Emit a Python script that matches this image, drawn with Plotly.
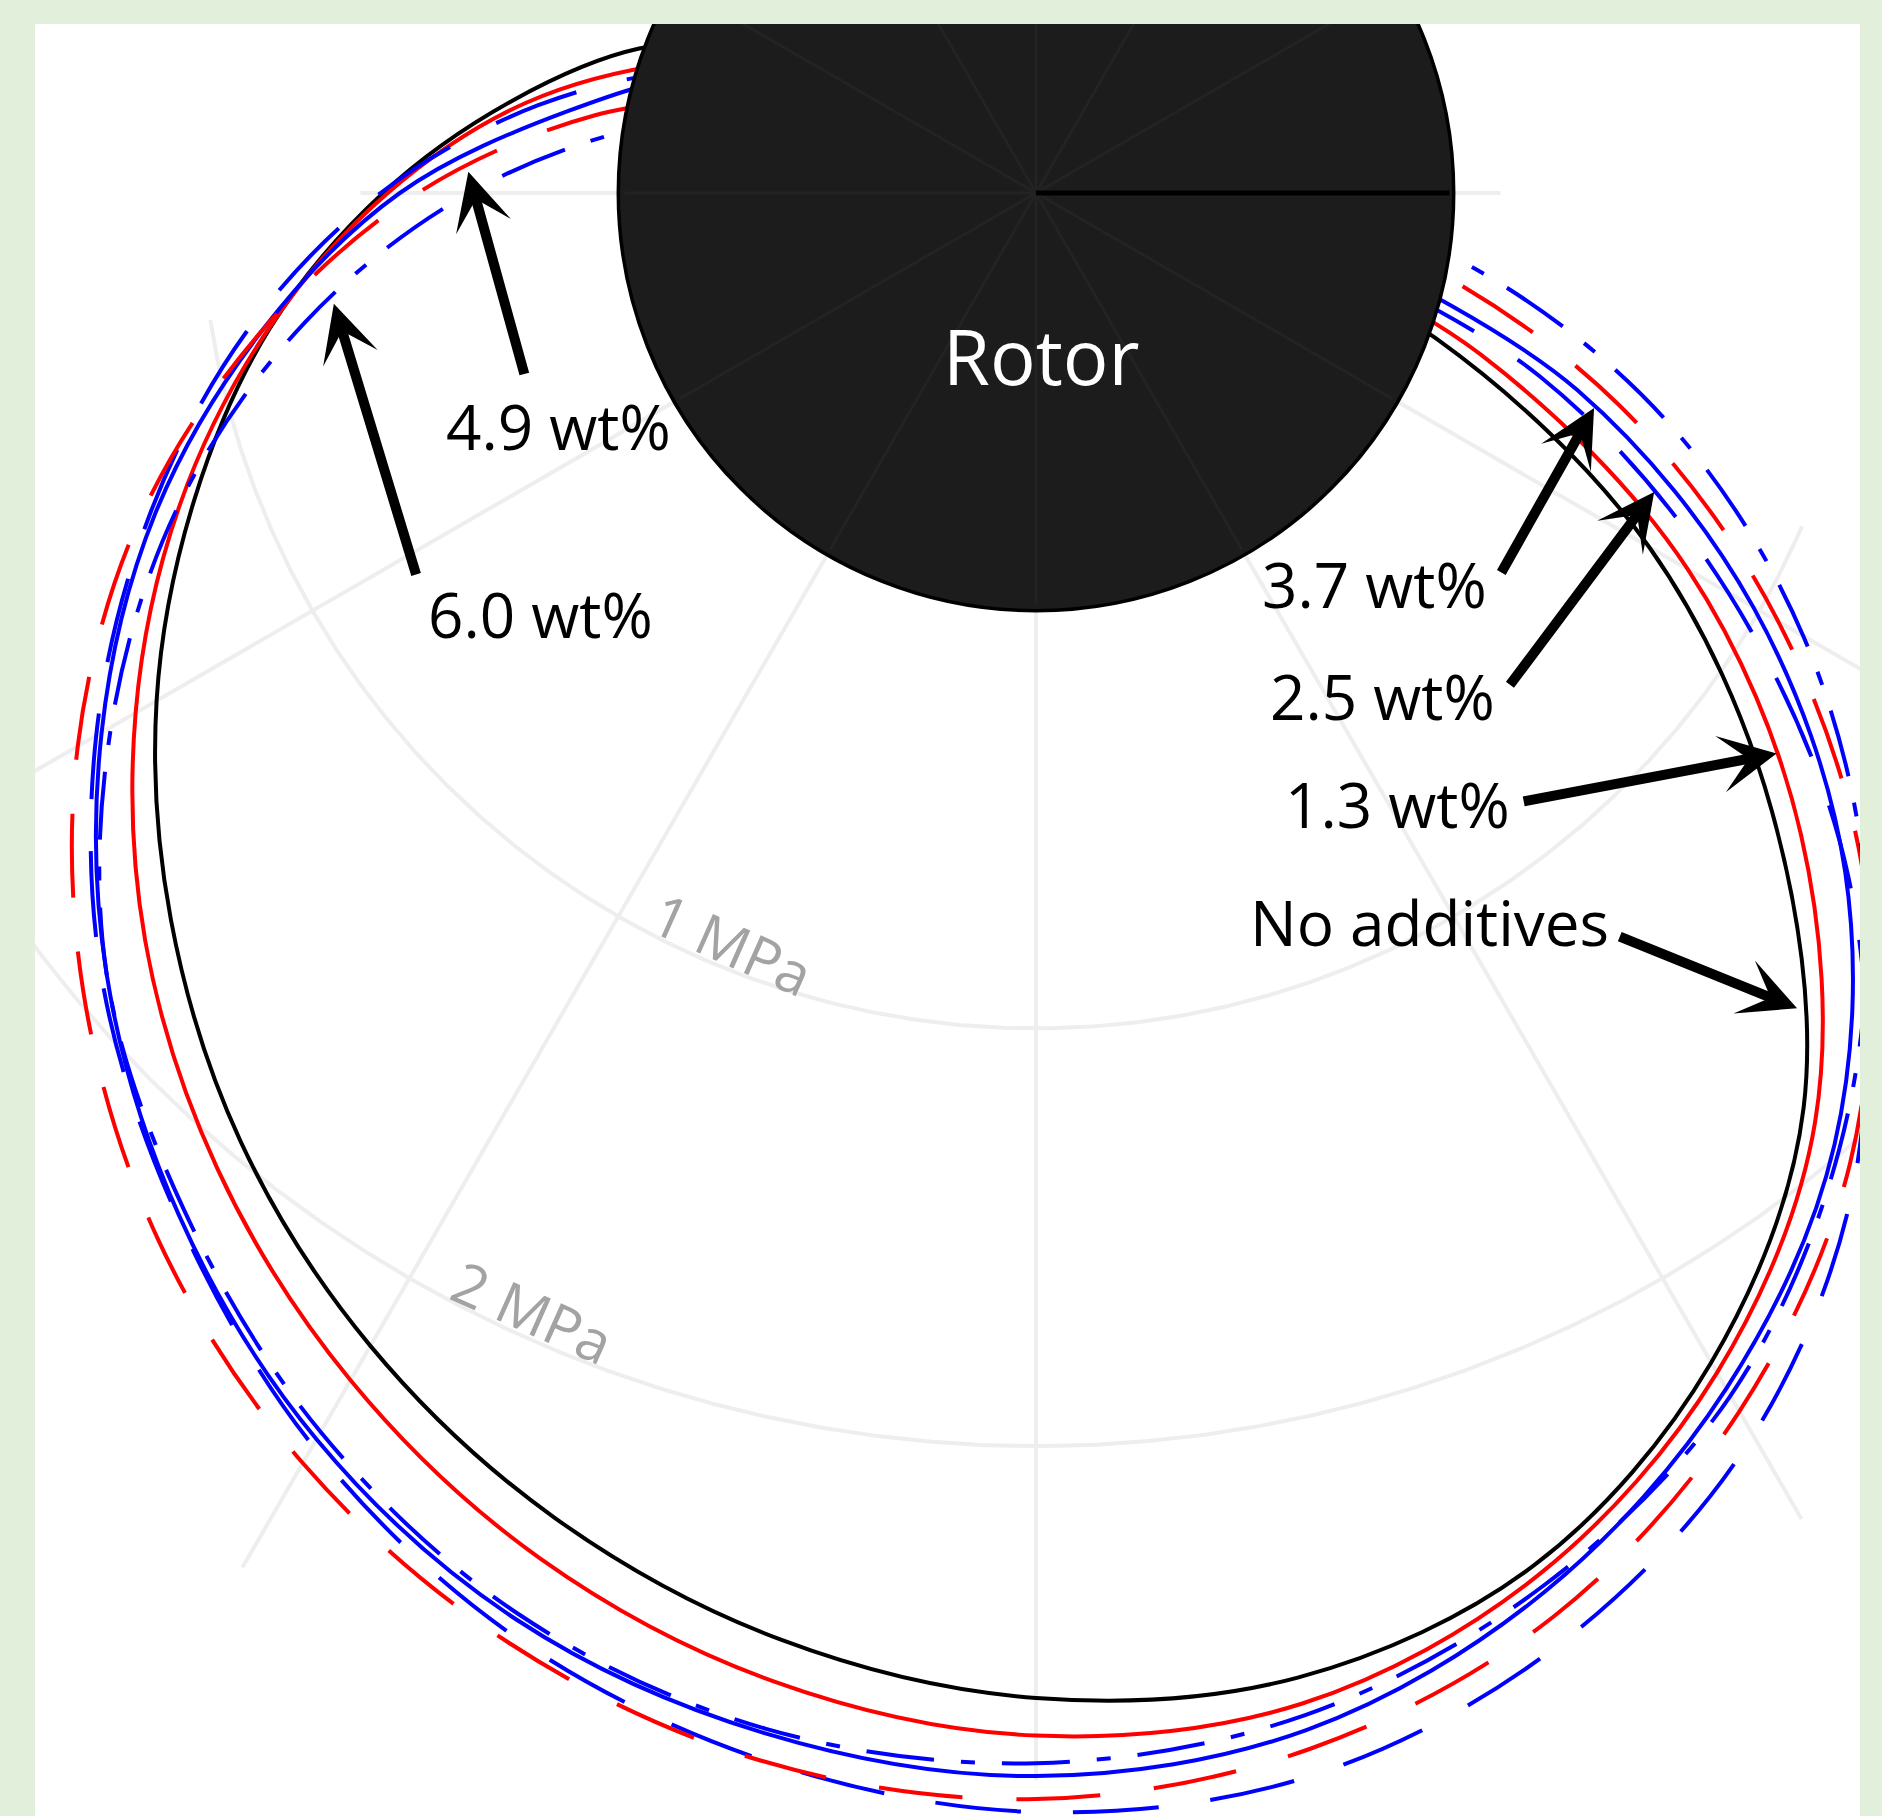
import numpy as np
import plotly.graph_objects as go

# ---- film pressure around the rotor: angle (deg, ccw from +x) and pressure (MPa) ----
theta_none = [150, 160, 170, 180, 190, 200, 210, 220, 230, 240, 250, 260, 270,
              280, 290, 300, 310, 320, 330, 340, 350]
p_none = [-0.282, 0.011, 0.273, 0.563, 0.862, 1.144, 1.431, 1.704, 1.963, 2.187, 2.374, 2.517, 2.603,
          2.609, 2.494, 2.233, 1.859, 1.299, 0.695, 0.020, -0.569]

theta_13 = [150, 160, 170, 180, 190, 200, 210, 220, 230, 240, 250, 260, 270,
            280, 290, 300, 310, 320, 330, 340, 350]
p_13 = [-0.368, -0.086, 0.241, 0.552, 0.865, 1.181, 1.489, 1.784, 2.049, 2.282, 2.477, 2.618, 2.693,
        2.672, 2.520, 2.261, 1.902, 1.391, 0.802, 0.135, -0.454]

theta_25 = [150, 160, 170, 180, 190, 200, 210, 220, 230, 240, 250, 260, 270,
            280, 290, 300, 310, 320, 330, 340, 350]
p_25 = [-0.483, -0.138, 0.210, 0.569, 0.920, 1.259, 1.598, 1.920, 2.198, 2.463, 2.672, 2.807, 2.876,
        2.845, 2.690, 2.434, 2.055, 1.537, 0.914, 0.284, -0.382]

theta_37 = [150, 160, 170, 180, 190, 200, 210, 220, 230, 240, 250, 260, 270,
            280, 290, 300, 310, 320, 330, 340, 350]
p_37 = [-0.511, -0.167, 0.135, 0.523, 0.879, 1.244, 1.583, 1.905, 2.193, 2.445, 2.635, 2.744, 2.790,
        2.736, 2.563, 2.305, 1.974, 1.529, 0.983, 0.379, -0.267]

theta_49 = [160, 170, 180, 190, 200, 210, 220, 230, 240, 250, 260, 270,
            280, 290, 300, 310, 320, 330, 340, 350, 360]
p_49 = [-0.310, 0.072, 0.480, 0.879, 1.284, 1.649, 1.977, 2.270, 2.511, 2.693, 2.810, 2.845,
        2.782, 2.626, 2.368, 2.032, 1.592, 1.052, 0.486, -0.080, -0.569]

theta_60 = [160, 170, 180, 190, 200, 210, 220, 230, 240, 250, 260, 270,
            280, 290, 300, 310, 320, 330, 340, 350, 360]
p_60 = [-0.483, -0.066, 0.356, 0.776, 1.184, 1.557, 1.905, 2.175, 2.425, 2.621, 2.733, 2.759,
        2.701, 2.549, 2.325, 1.991, 1.592, 1.121, 0.612, 0.078, -0.425]

series_names = ["No additives", "1.3 wt%", "2.5 wt%", "3.7 wt%", "4.9 wt%", "6.0 wt%"]

# ---- radial (pressure) axis ----
r_ticks = [1, 2]
r_tick_labels = ["1 MPa", "2 MPa"]
r_tick_label_angles = [248.0, 245.8]
r_axis_min = -1.0          # pressure at the rotor centre; 0 MPa sits on the rotor surface
r_axis_max = 2.8
theta_grid = list(range(0, 360, 30))

# ---- styling ----
styles = [
    dict(color="black", dash="solid"),
    dict(color="#ff0000", dash="solid"),
    dict(color="#0000ff", dash="86px,52px"),
    dict(color="#0000ff", dash="solid"),
    dict(color="#ff0000", dash="84px,54px"),
    dict(color="#0000ff", dash="68px,27px,14px,27px"),
]
GRID = "#eeeeee"
FONT = "Open Sans"

# page geometry (px): one pressure unit is UNIT px, rotor centre at (CX, CY)
W, H = 1882, 1816
ML, MR, MT, MB = 35, 22, 24, 0
UNIT = 417.7
CX, CY = 1036.0, 193.0
x_range = [(ML - CX) / UNIT, (W - MR - CX) / UNIT]
y_range = [(CY - (H - MB)) / UNIT, (CY - MT) / UNIT]

# the pressure grid is only displayed inside this window (x, y, radius in plot units)
grid_window = (-0.254, -1.98, 2.406)


def to_xy(theta_deg, p):
    t = np.radians(np.asarray(theta_deg, dtype=float))
    r = np.asarray(p, dtype=float) - r_axis_min
    return r * np.cos(t), r * np.sin(t)


def windowed(xs, ys):
    cx, cy, cr = grid_window
    keep = (xs - cx) ** 2 + (ys - cy) ** 2 <= cr ** 2
    return ([float(v) if k else None for v, k in zip(xs, keep)],
            [float(v) if k else None for v, k in zip(ys, keep)])


fig = go.Figure()

# grid circles
tt = np.linspace(0, 2 * np.pi, 1441)
for rv in r_ticks:
    rr = rv - r_axis_min
    gx, gy = windowed(rr * np.cos(tt), rr * np.sin(tt))
    fig.add_trace(go.Scatter(x=gx, y=gy, mode="lines", line=dict(color=GRID, width=4),
                             hoverinfo="skip", showlegend=False))

# radial grid lines from the rotor surface outwards
rs = np.linspace(0 - r_axis_min, r_axis_max - r_axis_min, 500)
for th in theta_grid:
    a = np.radians(th)
    gx, gy = windowed(rs * np.cos(a), rs * np.sin(a))
    fig.add_trace(go.Scatter(x=gx, y=gy, mode="lines", line=dict(color=GRID, width=4),
                             hoverinfo="skip", showlegend=False))

# pressure profiles
all_theta = [theta_none, theta_13, theta_25, theta_37, theta_49, theta_60]
all_p = [p_none, p_13, p_25, p_37, p_49, p_60]
for name, th, pv, st in zip(series_names, all_theta, all_p, styles):
    x, y = to_xy(th, pv)
    fig.add_trace(go.Scatter(x=x, y=y, mode="lines", name=name,
                             line=dict(color=st["color"], width=4, dash=st["dash"],
                                       shape="spline", smoothing=1.0),
                             hoverinfo="skip", showlegend=False))

# rotor disc (0 MPa surface) with faint grid spokes and a reference radius
r_rotor = 0 - r_axis_min
shapes = [dict(type="circle", xref="x", yref="y", x0=-r_rotor, y0=-r_rotor, x1=r_rotor, y1=r_rotor,
               fillcolor="#1c1c1c", line=dict(color="black", width=3.5), layer="above")]
for th in theta_grid:
    a = np.radians(th)
    shapes.append(dict(type="line", xref="x", yref="y", x0=0, y0=0,
                       x1=0.985 * r_rotor * np.cos(a), y1=0.985 * r_rotor * np.sin(a),
                       line=dict(color="#232323", width=3), layer="above"))
shapes.append(dict(type="line", xref="x", yref="y", x0=0, y0=0, x1=0.99 * r_rotor, y1=0,
                   line=dict(color="black", width=5), layer="above"))

annotations = [dict(x=0.014, y=-0.39, xref="x", yref="y", text="Rotor", showarrow=False,
                    font=dict(family=FONT, size=76, color="white"))]

# radial tick labels, written along the circles
for rv, lab, ang in zip(r_ticks, r_tick_labels, r_tick_label_angles):
    a = np.radians(ang)
    rr = rv - r_axis_min - 0.063
    annotations.append(dict(x=rr * np.cos(a), y=rr * np.sin(a), xref="x", yref="y", text=lab,
                            showarrow=False, textangle=24,
                            font=dict(family=FONT, size=58, color="#a3a3a3")))

# series labels and their arrows: (text, text centre, arrow tail, arrow tip) in plot units
labels = [
    ("6.0 wt%", (-1.187, -1.009), (-1.483, -0.917), (-1.681, -0.265)),
    ("4.9 wt%", (-1.144, -0.558), (-1.224, -0.437), (-1.359, 0.051)),
    ("3.7 wt%", (0.810, -0.935), (1.112, -0.912), (1.336, -0.515)),
    ("2.5 wt%", (0.830, -1.205), (1.132, -1.181), (1.480, -0.716)),
    ("1.3 wt%", (0.865, -1.463), (1.164, -1.457), (1.773, -1.342)),
    ("No additives", (0.943, -1.745), (1.394, -1.779), (1.822, -1.952)),
]
for text, (tx, ty), (ax_, ay_), (hx, hy) in labels:
    annotations.append(dict(x=tx, y=ty, xref="x", yref="y", text=text, showarrow=False,
                            font=dict(family=FONT, size=62, color="black")))
    annotations.append(dict(x=hx, y=hy, xref="x", yref="y", ax=ax_, ay=ay_, axref="x", ayref="y",
                            text="", showarrow=True, arrowhead=3, arrowsize=0.95,
                            arrowwidth=10, arrowcolor="black", standoff=0, startstandoff=0))

fig.update_layout(
    width=W, height=H,
    margin=dict(l=ML, r=MR, t=MT, b=MB, pad=0),
    paper_bgcolor="#e2efda",
    plot_bgcolor="white",
    shapes=shapes,
    annotations=annotations,
    hovermode=False,
    showlegend=False,
)
fig.update_xaxes(range=x_range, visible=False, fixedrange=True)
fig.update_yaxes(range=y_range, visible=False, fixedrange=True)

fig.write_html("out.html")
